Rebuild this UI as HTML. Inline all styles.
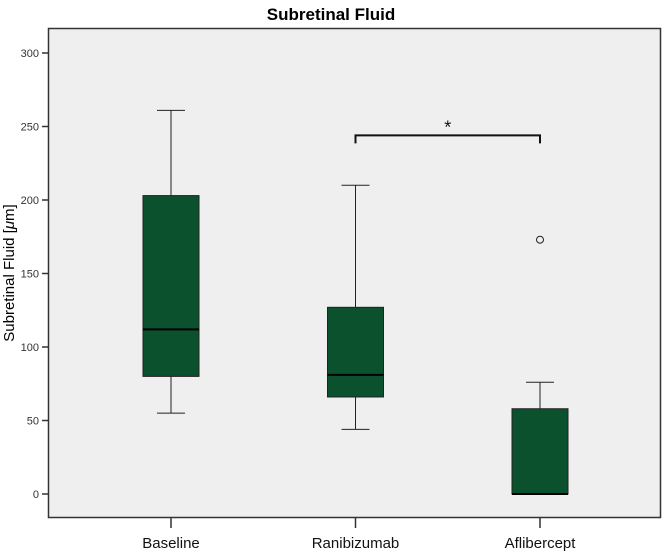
<!DOCTYPE html>
<html><head><style>
body{margin:0;background:#fff;}
svg text{font-family:"Liberation Sans",sans-serif;}
</style></head><body>
<svg width="663" height="551" id="c">
<text x="331" y="20" text-anchor="middle" font-size="17" font-weight="bold">Subretinal Fluid</text>
<rect x="48.5" y="28.5" width="612" height="489" fill="#efefef" stroke="#333" stroke-width="1.5"/>
<text transform="translate(14,273) rotate(-90)" text-anchor="middle" font-size="15">Subretinal Fluid [<tspan font-style="italic">μ</tspan>m]</text>
<g id="g"></g>
</svg>
<script>
const categories=["Baseline","Ranibizumab","Aflibercept"];
const mins=[55,44,0];
const q1s=[80,66,0];
const medians=[112,81,0];
const q3s=[203,127,58];
const maxs=[261,210,76];
const outliers=[[],[],[173]];
const yTicks=[0,50,100,150,200,250,300];
const sigBracket=[1,2,244];
const NS="http://www.w3.org/2000/svg";
const g=document.getElementById('g');
const y=v=>494-v*(441/300);
const x=i=>171+i*184.5;
function el(t,a){const e=document.createElementNS(NS,t);for(const k in a)e.setAttribute(k,a[k]);g.appendChild(e);return e;}
yTicks.forEach(t=>{
 const l=el('line',{x1:42,x2:48,y1:y(t),y2:y(t),stroke:'#333','stroke-width':1.5});
 
 
 const tx=el('text',{x:39,y:y(t)+4,'text-anchor':'end','font-size':11,fill:'#333'});tx.textContent=t;
 
 
});
categories.forEach((c,i)=>{
 const cx=x(i),w=28;
 const t=el('line',{x1:cx,x2:cx,y1:518,y2:528,stroke:'#333','stroke-width':1.5});
 
 
 const lb=el('text',{x:cx,y:548,'text-anchor':'middle','font-size':15,fill:'#111'});lb.textContent=c;
 
 
 const wk=el('path',{d:`M${cx},${y(maxs[i])}V${y(q3s[i])}M${cx},${y(q1s[i])}V${y(mins[i])}M${cx-14},${y(maxs[i])}H${cx+14}M${cx-14},${y(mins[i])}H${cx+14}`,stroke:'#222',fill:'none','stroke-width':1});
 
 
 const b=el('rect',{x:cx-w,y:y(q3s[i]),width:2*w,height:y(q1s[i])-y(q3s[i]),fill:'#0b512e',stroke:'#222','stroke-width':1});
 
 
 const m=el('line',{x1:cx-w,x2:cx+w,y1:y(medians[i]),y2:y(medians[i]),stroke:'#000','stroke-width':2});
 
 
 outliers[i].forEach(o=>{
  const ci=el('circle',{cx:cx,cy:y(o),r:3.5,fill:'none',stroke:'#222','stroke-width':1});
  
  
 });
});
const by=y(sigBracket[2]);
const br=el('path',{d:`M${x(sigBracket[0])},${by+8}V${by}H${x(sigBracket[1])}V${by+8}`,stroke:'#111',fill:'none','stroke-width':2});


const st=el('text',{x:(x(sigBracket[0])+x(sigBracket[1]))/2,y:by-2,'text-anchor':'middle','font-size':18,fill:'#111'});st.textContent='*';


</script>
</body></html>
